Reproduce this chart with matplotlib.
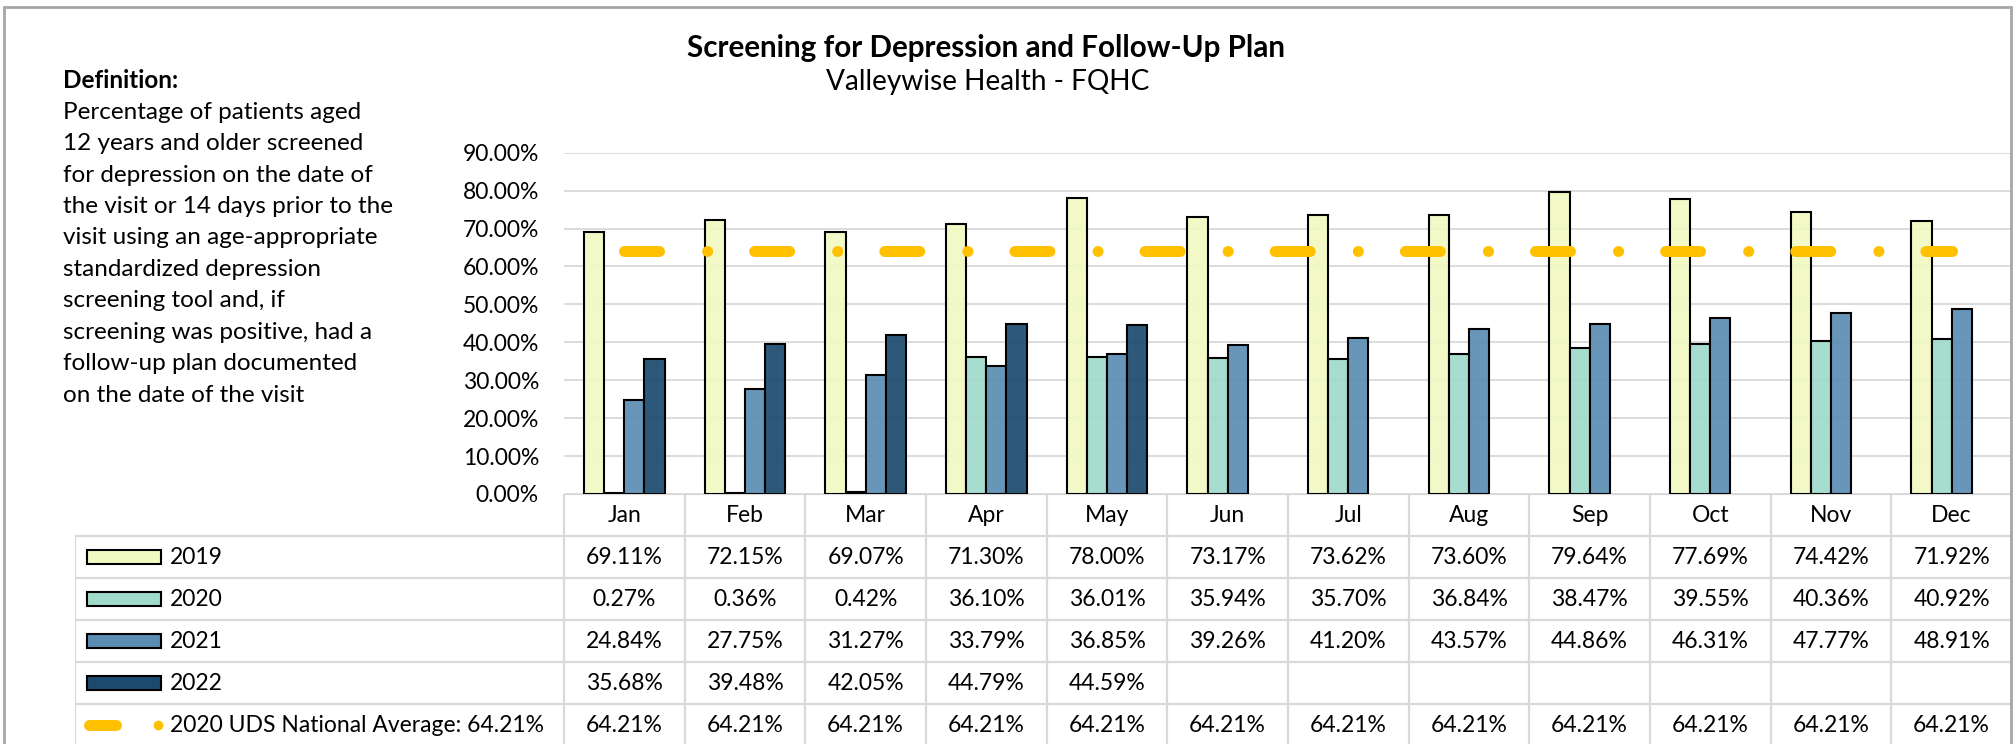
import matplotlib.pyplot as plt
import numpy as np
from matplotlib.patches import Rectangle

plt.rcParams['font.family'] = ['Lato', 'DejaVu Sans']
plt.rcParams['lines.scale_dashes'] = False

# --- data ---
months = ['Jan', 'Feb', 'Mar', 'Apr', 'May', 'Jun',
          'Jul', 'Aug', 'Sep', 'Oct', 'Nov', 'Dec']
years = ['2019', '2020', '2021', '2022']
v2019 = [69.11, 72.15, 69.07, 71.30, 78.00, 73.17, 73.62, 73.60, 79.64, 77.69, 74.42, 71.92]
v2020 = [0.27, 0.36, 0.42, 36.10, 36.01, 35.94, 35.70, 36.84, 38.47, 39.55, 40.36, 40.92]
v2021 = [24.84, 27.75, 31.27, 33.79, 36.85, 39.26, 41.20, 43.57, 44.86, 46.31, 47.77, 48.91]
v2022 = [35.68, 39.48, 42.05, 44.79, 44.59]
national_avg = [64.21] * 12
avg_label = '2020 UDS National Average: 64.21%'
yticks = [0, 10, 20, 30, 40, 50, 60, 70, 80, 90]

title = 'Screening for Depression and Follow-Up Plan'
subtitle = 'Valleywise Health - FQHC'
definition_head = 'Definition:'
definition_lines = [
    'Percentage of patients aged',
    '12 years and older screened',
    'for depression on the date of',
    'the visit or 14 days prior to the',
    'visit using an age-appropriate',
    'standardized depression',
    'screening tool and, if',
    'screening was positive, had a',
    'follow-up plan documented',
    'on the date of the visit',
]

series = [v2019, v2020, v2021, v2022]
colors = ['#F1F9C3', '#A0DACA', '#5B8DB2', '#1C4A6E']
avg_color = '#FFC000'
grid_color = '#D9D9D9'
fs = 16.5

W, H = 2015, 744
fig = plt.figure(figsize=(W / 100, H / 100), dpi=100)


def fx(px):
    return px / W


def fy(py):
    return 1 - py / H


# plot area in pixels
left, right, top, bottom = 564, 2012, 152.7, 494
ax = fig.add_axes([fx(left), fy(bottom), (right - left) / W, (bottom - top) / H])

x = np.arange(len(months))
bw = 1 / 6
for k, vals in enumerate(series):
    r, g, b = plt.matplotlib.colors.to_rgb(colors[k])
    ax.bar(x[:len(vals)] + (k - 1.5) * bw, np.array(vals) / 100, width=bw,
           color=(r, g, b, 0.92), edgecolor='black', linewidth=1.5,
           zorder=2, label=years[k])

ax.plot(x, np.array(national_avg) / 100, color=avg_color, lw=7.9,
        linestyle=(0, (25.2, 34.6, 0.1, 33.8)), dash_capstyle='round',
        solid_capstyle='round', zorder=3)

ax.set_xlim(-0.5, len(months) - 0.5)
ax.set_ylim(0, 0.9)
ax.set_yticks(np.array(yticks) / 100)
ax.set_yticklabels([f'{t:.2f}%' for t in yticks], fontsize=fs)
ax.tick_params(axis='y', length=0, pad=18)
ax.set_xticks([])
ax.yaxis.grid(True, color=grid_color, lw=1.3, zorder=0)
ax.set_axisbelow(True)
for s in ax.spines.values():
    s.set_visible(False)

# --- data table below the plot ---
col_px = (right - left) / len(months)
tleft = 75
row_px = 42
x0 = -0.5 - (left - tleft) / col_px
tax = fig.add_axes([fx(tleft), fy(H), (right - tleft) / W, (H - bottom) / H])
tax.set_xlim(x0, len(months) - 0.5)
tax.set_ylim((H - bottom) / row_px, 0)
tax.axis('off')


def tx(px):
    return x0 + (px - tleft) / col_px


nrows = 6
lk = dict(color=grid_color, lw=1.6, solid_capstyle='butt')
for b in np.arange(-0.5, len(months)):
    tax.plot([b, b], [0, nrows], **lk)
tax.plot([x0, x0], [1, nrows], **lk)
tax.plot([-0.5, len(months) - 0.5], [0, 0], **lk)
for r in range(1, nrows + 1):
    tax.plot([x0, len(months) - 0.5], [r, r], **lk)

for i, m in enumerate(months):
    tax.text(i, 0.5, m, ha='center', va='center', fontsize=fs)

rows = series + [national_avg]
for r, vals in enumerate(rows, start=1):
    for i, v in enumerate(vals):
        tax.text(i, r + 0.5, f'{v:.2f}%', ha='center', va='center', fontsize=fs)

sw_h = 14 / row_px
for k, yr in enumerate(years):
    r = k + 1
    tax.add_patch(Rectangle((tx(87), r + 0.5 - sw_h / 2), tx(161) - tx(87), sw_h,
                            facecolor=colors[k], edgecolor='black', lw=1.5))
    tax.text(tx(170), r + 0.5, yr, ha='left', va='center', fontsize=fs)

tax.plot([tx(89), tx(116)], [5.5, 5.5], color=avg_color, lw=7.9,
         solid_capstyle='round')
tax.plot([tx(158)], [5.5], 'o', color=avg_color, markersize=7, markeredgewidth=0)
tax.text(tx(170), 5.5, avg_label, ha='left', va='center', fontsize=fs)

# --- titles and definition ---
fig.text(fx(986), fy(48), title, ha='center', va='center',
         fontsize=21.3, fontweight='bold')
fig.text(fx(988), fy(82), subtitle, ha='center', va='center', fontsize=20.2)

fig.text(fx(63), fy(81), definition_head, ha='left', va='center',
         fontsize=17.5, fontweight='bold')
for j, line in enumerate(definition_lines, start=1):
    fig.text(fx(63), fy(81 + 31.4 * j), line, ha='left', va='center', fontsize=17.5)

# chart frame
fig.patches.append(Rectangle((fx(4), -0.05), (2011 - 4) / W, fy(7) + 0.05,
                             transform=fig.transFigure, fill=False,
                             edgecolor='#A6A6A6', lw=2))

fig.savefig('out.png', dpi=100)
